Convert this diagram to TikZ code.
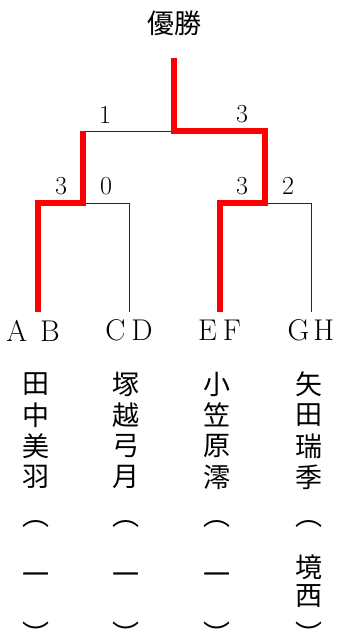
\documentclass[tikz,border=0pt]{standalone}
\usepackage{fontspec}
\newfontfamily\cjk{Noto Sans CJK JP}
\begin{document}
\begin{tikzpicture}[x=1pt,y=-1pt,
  loser/.style={line width=1pt, draw=black!85},
  win/.style={line width=5.5pt, draw=red, line join=miter},
  score/.style={font=\fontsize{26}{30}\selectfont, inner sep=0pt},
  team/.style={font=\fontsize{30}{34}\selectfont, inner sep=0pt},
  kanji/.style={font=\cjk\fontsize{27}{30}\selectfont, inner sep=0pt}]
\useasboundingbox (0,0) rectangle (339,641);
% title
\node[kanji] (title) at (174.5,23.5) {優勝};
% bracket points
\coordinate (top) at (174,58);
\coordinate (m) at (174,131);
\coordinate (l2) at (83,131);
\coordinate (r2) at (265,131);
\coordinate (l1) at (83,203);
\coordinate (r1) at (265,203);
\coordinate (a) at (38,203);
\coordinate (c) at (129,203);
\coordinate (e) at (220,203);
\coordinate (g) at (311,203);
\coordinate (ab) at (38,312);
\coordinate (cd) at (129,312);
\coordinate (ef) at (220,312);
\coordinate (gh) at (311,312);
% losing lines
\draw[loser] (m) -- (l2);
\draw[loser] (l1) -- (c) -- (cd);
\draw[loser] (r1) -- (g) -- (gh);
% winning lines
\draw[win] (top) -- (m) -- (r2) -- (r1) -- (e) -- (ef);
\draw[win] (l2) -- (l1) -- (a) -- (ab);
% scores
\node[score] (s1) at (105,114.5) {1};
\node[score] (s2) at (242,114.5) {3};
\node[score] (s3) at (61,186) {3};
\node[score] (s4) at (106,186) {0};
\node[score] (s5) at (242,186) {3};
\node[score] (s6) at (288,186) {2};
% teams
\node[team] (tAB) at (33,330.5) {A\hspace{13pt}B};
\node[team] (tCD) at (129,330.5) {C\hspace{6pt}D};
\node[team] (tEF) at (219.5,330.5) {E\hspace{6pt}F};
\node[team] (tGH) at (311,330.5) {G\hspace{4pt}H};
% names
\foreach \ch [count=\i] in {田,中,美,羽}
  \node[kanji] (p1-\i) at (36,{384+31*(\i-1)}) {\ch};
\foreach \ch [count=\i] in {塚,越,弓,月}
  \node[kanji] (p2-\i) at (126,{384+31*(\i-1)}) {\ch};
\foreach \ch [count=\i] in {小,笠,原,澪}
  \node[kanji] (p3-\i) at (217,{384+31*(\i-1)}) {\ch};
\foreach \ch [count=\i] in {矢,田,瑞,季}
  \node[kanji] (p4-\i) at (309,{384+31*(\i-1)}) {\ch};
% schools
\foreach \x/\k in {36/1,126/2,217/3}{
  \node[kanji] (o\k) at (\x,524) {︵};
  \node[kanji] (y\k) at (\x,579) {一};
  \node[kanji] (c\k) at (\x,633.5) {︶};
}
\node[kanji] (o4) at (309,524) {︵};
\node[kanji] (y4a) at (309,567) {境};
\node[kanji] (y4b) at (309,596) {西};
\node[kanji] (c4) at (309,633.5) {︶};
\end{tikzpicture}
\end{document}
